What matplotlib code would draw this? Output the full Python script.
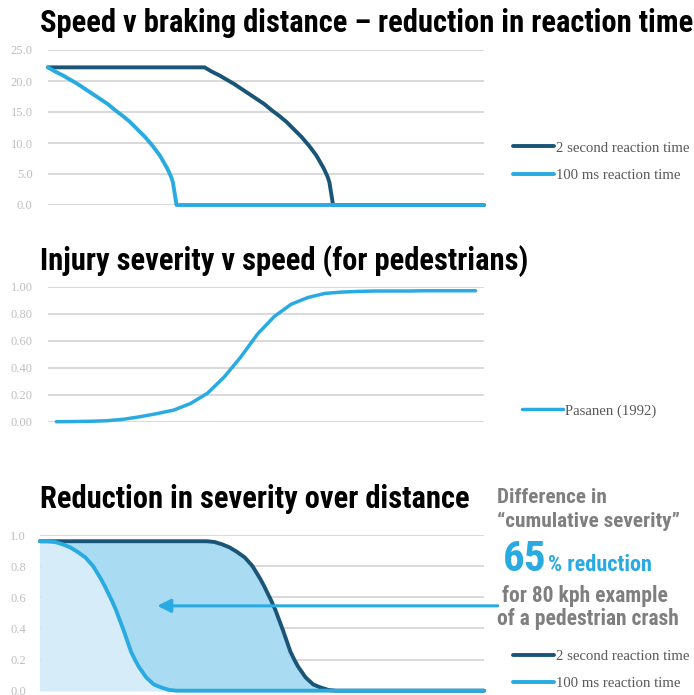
import matplotlib
matplotlib.use("Agg")
import matplotlib.pyplot as plt

# braking: distance travelled (m) vs speed (m/s), 80 kph start
light_dist = [0, 2, 4, 6, 8, 10, 12, 14, 16, 18, 20, 22, 24, 26, 28, 30, 32, 33, 33.5, 34.5, 117]
light_speed = [22.2, 21.5, 20.9, 20.2, 19.5, 18.7, 17.9, 17.1, 16.3, 15.3, 14.4, 13.4, 12.2,
               11.0, 9.6, 8.0, 5.9, 4.6, 3.7, 0.0, 0.0]
dark_dist = [0, 42, 44, 46, 48, 50, 52, 54, 56, 58, 60, 62, 64, 66, 68, 70, 72, 74, 75, 75.5, 76.5, 117]
dark_speed = [22.2, 22.2, 21.5, 20.9, 20.2, 19.5, 18.7, 17.9, 17.1, 16.3, 15.3, 14.4, 13.4, 12.2,
              11.0, 9.6, 8.0, 5.9, 4.6, 3.7, 0.0, 0.0]

# injury severity vs impact speed (kph)
impact_kph = list(range(0, 130, 5))
severity = [0.0, 0.001, 0.003, 0.007, 0.018, 0.037, 0.06, 0.086, 0.135, 0.21, 0.33, 0.48, 0.65,
            0.78, 0.87, 0.92, 0.95, 0.96, 0.965, 0.968, 0.968, 0.968, 0.97, 0.97, 0.97, 0.97]

# severity over distance
sev_light_dist = [0, 2, 4, 6, 8, 10, 12, 14, 16, 17, 18, 19, 20, 21, 22, 23, 24, 25, 26, 28, 30,
                  32, 34, 36, 117]
sev_light = [0.96, 0.96, 0.955, 0.94, 0.92, 0.89, 0.855, 0.80, 0.72, 0.675, 0.625, 0.575, 0.52,
             0.455, 0.39, 0.32, 0.25, 0.20, 0.155, 0.085, 0.04, 0.02, 0.005, 0.0, 0.0]
sev_dark_dist = [0, 42, 44, 46, 48, 50, 52, 54, 56, 58, 59, 60, 61, 62, 63, 64, 65, 66, 67, 68,
                 70, 72, 74, 76, 78, 117]
sev_dark = [0.96, 0.96, 0.96, 0.955, 0.94, 0.92, 0.89, 0.855, 0.80, 0.72, 0.675, 0.625, 0.575,
            0.52, 0.455, 0.39, 0.32, 0.25, 0.20, 0.155, 0.085, 0.04, 0.02, 0.005, 0.0, 0.0]

labels_rt = ["2 second reaction time", "100 ms reaction time"]
label_pas = "Pasanen (1992)"

DARK = "#1a5577"
LIGHT = "#29abe2"
GRID = "#d9d9d9"
TICK = "#bfbfbf"
GREY = "#7f7f7f"
COND = ["Roboto Condensed", "Liberation Sans Narrow", "DejaVu Sans"]
SERIF = ["Liberation Serif", "DejaVu Serif"]

W, H = 694, 695
fig = plt.figure(figsize=(W / 100, H / 100), dpi=100)


def box(x0, x1, y_top, y_bot):
    return [x0 / W, 1 - y_bot / H, (x1 - x0) / W, (y_bot - y_top) / H]


def style(ax, ticks, fmt, pad):
    ax.set_yticks(ticks)
    ax.set_yticklabels([fmt % t for t in ticks], family=SERIF, fontsize=9, color=TICK)
    ax.set_xticks([])
    ax.tick_params(axis="y", length=0, pad=pad)
    for s in ax.spines.values():
        s.set_visible(False)
    ax.grid(axis="y", color=GRID, lw=1.4)
    ax.set_axisbelow(True)


def title(x, y, txt, size):
    fig.text(x / W, 1 - y / H, txt, fontsize=size, fontweight="heavy", family=COND,
             fontstretch="condensed", va="baseline", ha="left", color="black")


def legend(ax, x, y, handles, labels):
    ax.legend(handles, labels, loc="center left", bbox_to_anchor=(x / W, 1 - y / H),
              bbox_transform=fig.transFigure, frameon=False, borderpad=0, borderaxespad=0,
              handlelength=2.8, handletextpad=0.15, labelspacing=0.95,
              prop={"family": SERIF, "size": 10.6}, labelcolor="#595959")


# panel 1
ax1 = fig.add_axes(box(48, 484, 50, 205))
l_dark, = ax1.plot(dark_dist, dark_speed, color=DARK, lw=2.8, clip_on=False, solid_capstyle="round")
l_light, = ax1.plot(light_dist, light_speed, color=LIGHT, lw=2.8, clip_on=False, solid_capstyle="round")
ax1.set_xlim(0, 117)
ax1.set_ylim(0, 25)
style(ax1, [0, 5, 10, 15, 20, 25], "%.1f", 11)
legend(ax1, 513, 161.5, [l_dark, l_light], labels_rt)
title(40, 32, "Speed v braking distance \u2013 reduction in reaction time", 22)

# panel 2
ax2 = fig.add_axes(box(48, 484, 286.7, 421.7))
l_pas, = ax2.plot(range(len(severity)), severity, color=LIGHT, lw=2.5, clip_on=False,
                  solid_capstyle="round")
ax2.set_xlim(-0.5, len(severity) - 0.5)
ax2.set_ylim(0, 1)
style(ax2, [0, 0.2, 0.4, 0.6, 0.8, 1.0], "%.2f", 11)
legend(ax2, 522, 411, [l_pas], [label_pas])
title(40, 270, "Injury severity v speed (for pedestrians)", 22)

# panel 3
ax3 = fig.add_axes(box(40, 484, 535, 690.7))
ax3.fill_between(sev_dark_dist, sev_dark, color="#a9dcf2", lw=0)
ax3.fill_between(sev_light_dist, sev_light, color="#d6edf9", lw=0)
d3, = ax3.plot(sev_dark_dist, sev_dark, color=DARK, lw=2.8, clip_on=False, solid_capstyle="round")
l3, = ax3.plot(sev_light_dist, sev_light, color=LIGHT, lw=2.8, clip_on=False, solid_capstyle="round")
ax3.set_xlim(0, 117)
ax3.set_ylim(0, 1)
style(ax3, [0, 0.2, 0.4, 0.6, 0.8, 1.0], "%.1f", 10)
legend(ax3, 513, 670, [d3, l3], labels_rt)
title(40, 508, "Reduction in severity over distance", 22)

ax3.annotate("", xy=(30.9, 0.545), xytext=(120.6, 0.545), annotation_clip=False,
             arrowprops=dict(arrowstyle="-|>,head_length=0.8,head_width=0.4", color=LIGHT,
                             lw=2.2, shrinkA=0, shrinkB=0))

note = dict(fontweight="bold", family=COND, fontstretch="condensed", va="baseline", ha="left")
fig.text(497 / W, 1 - 503 / H, "Difference in", fontsize=15.3, color=GREY, **note)
fig.text(497 / W, 1 - 527 / H, "\u201ccumulative severity\u201d", fontsize=15.3, color=GREY, **note)
fig.text(503 / W, 1 - 571 / H, "65", fontsize=31, color=LIGHT, **note)
fig.text(548 / W, 1 - 571 / H, "% reduction", fontsize=16, color=LIGHT, **note)
fig.text(502 / W, 1 - 602 / H, "for 80 kph example", fontsize=15.5, color=GREY, **note)
fig.text(497 / W, 1 - 625 / H, "of a pedestrian crash", fontsize=15.5, color=GREY, **note)

fig.savefig("out.png", dpi=100)
